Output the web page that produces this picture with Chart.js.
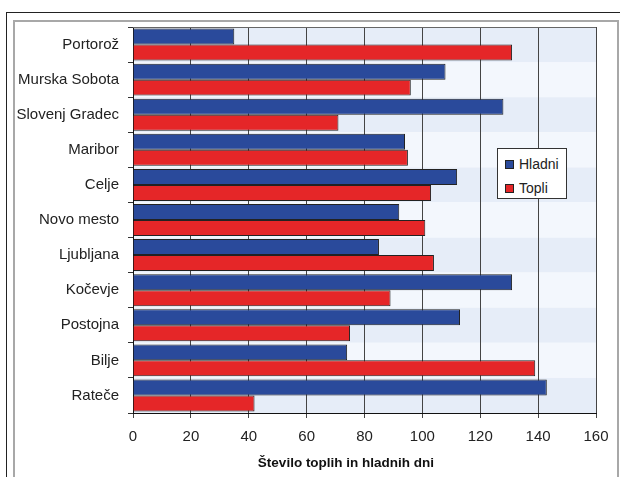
<!DOCTYPE html>
<html>
<head>
<meta charset="utf-8">
<script src="https://cdn.jsdelivr.net/npm/chart.js@4/dist/chart.umd.min.js"></script>
<style>
  html, body { margin: 0; padding: 0; background: #fff; }
  #wrap { position: relative; width: 620px; height: 477px; overflow: hidden; }
  #outer { position: absolute; left: 6px; top: 12px; width: 620px; height: 470px;
           border-top: 1px solid #222; border-left: 1px solid #222; }
  #inner { position: absolute; left: 13px; top: 20px; width: 602px; height: 470px;
           border: 2px solid #a8a8a8; border-bottom: none; }
  #chart { position: absolute; left: 0; top: 0; }
  #legend { position: absolute; left: 497px; top: 148px; width: 70px; height: 51px;
            background: #fff; border: 1px solid #333; font: 14px "Liberation Sans", Arial, sans-serif;
            color: #222; box-sizing: border-box; padding: 5px 0 0 7px; }
  .item { display: flex; align-items: center; height: 20px; margin-bottom: 4px; }
  .sw { width: 7px; height: 7px; border: 1px solid #222; margin-right: 5px; }
</style>
</head>
<body>
<div id="wrap">
  <div id="outer"></div>
  <div id="inner"></div>
  <canvas id="chart" width="620" height="477"></canvas>
  <div id="legend"></div>
</div>
<script>
// Weather stations and day counts
const categories = ['Portorož', 'Murska Sobota', 'Slovenj Gradec', 'Maribor', 'Celje',
  'Novo mesto', 'Ljubljana', 'Kočevje', 'Postojna', 'Bilje', 'Rateče'];
const hladni = [35, 108, 128, 94, 112, 92, 85, 131, 113, 74, 143];
const topli = [131, 96, 71, 95, 103, 101, 104, 89, 75, 139, 42];
const seriesNames = ['Hladni', 'Topli'];
const xTickValues = [0, 20, 40, 60, 80, 100, 120, 140, 160];
const xTitle = 'Število toplih in hladnih dni';

const FONT = '"Liberation Sans", Arial, sans-serif';

// Alternating row bands behind the bars, plus the top edge of the plot
const bandsPlugin = {
  id: 'bands',
  beforeDraw(chart) {
    const { ctx, chartArea: a, scales: { y } } = chart;
    const step = (a.bottom - a.top) / categories.length;
    ctx.save();
    categories.forEach((c, i) => {
      const mid = y.getPixelForValue(i);
      ctx.fillStyle = i % 2 === 0 ? '#e6edf8' : '#f3f7fd';
      ctx.fillRect(a.left, mid - step / 2, a.right - a.left, step);
    });
    ctx.restore();
  },
  afterDraw(chart) {
    const { ctx, chartArea: a } = chart;
    ctx.save();
    ctx.strokeStyle = '#666';
    ctx.lineWidth = 1;
    ctx.beginPath();
    ctx.moveTo(a.left, a.top + 0.5);
    ctx.lineTo(a.right, a.top + 0.5);
    ctx.stroke();
    // axis title, sitting slightly left of the plot centre
    ctx.fillStyle = '#111';
    ctx.font = 'bold 13.5px ' + FONT;
    ctx.textAlign = 'center';
    ctx.textBaseline = 'middle';
    ctx.fillText(xTitle, a.left + (a.right - a.left) * 0.46, 463);
    ctx.restore();
  }
};

const chart = new Chart(document.getElementById('chart'), {
  type: 'bar',
  data: {
    labels: categories,
    datasets: [
      { label: seriesNames[0], data: hladni, backgroundColor: '#2a4a9b', borderColor: '#222', borderWidth: 1,
        categoryPercentage: 0.91, barPercentage: 1.0 },
      { label: seriesNames[1], data: topli, backgroundColor: '#e52628', borderColor: '#222', borderWidth: 1,
        categoryPercentage: 0.91, barPercentage: 1.0 }
    ]
  },
  options: {
    indexAxis: 'y',
    responsive: false,
    animation: false,
    devicePixelRatio: 1,
    layout: { padding: { top: 27, right: 24, left: 0, bottom: 0 } },
    plugins: { legend: { display: false }, tooltip: { enabled: false } },
    scales: {
      x: {
        min: xTickValues[0],
        max: xTickValues[xTickValues.length - 1],
        afterFit(s) { s.height = 64; },
        afterBuildTicks(s) { s.ticks = xTickValues.map(v => ({ value: v })); },
        ticks: { color: '#222', font: { family: FONT, size: 15 }, padding: 10 },
        grid: { color: '#444', lineWidth: 1, tickLength: 5 },
        border: { color: '#111', width: 1 }
      },
      y: {
        afterFit(s) { s.width = 133; },
        ticks: { color: '#222', font: { family: FONT, size: 15 }, padding: 9 },
        grid: { drawOnChartArea: false, color: '#333', tickLength: 5, offset: true },
        border: { color: '#111', width: 1 }
      }
    }
  },
  plugins: [bandsPlugin]
});

// Legend box built from the chart's own datasets
const legend = document.getElementById('legend');
chart.data.datasets.forEach(ds => {
  const item = document.createElement('div');
  item.className = 'item';
  const sw = document.createElement('span');
  sw.className = 'sw';
  sw.style.background = ds.backgroundColor;
  const txt = document.createElement('span');
  txt.textContent = ds.label;
  item.appendChild(sw);
  item.appendChild(txt);
  legend.appendChild(item);
});
</script>
</body>
</html>
